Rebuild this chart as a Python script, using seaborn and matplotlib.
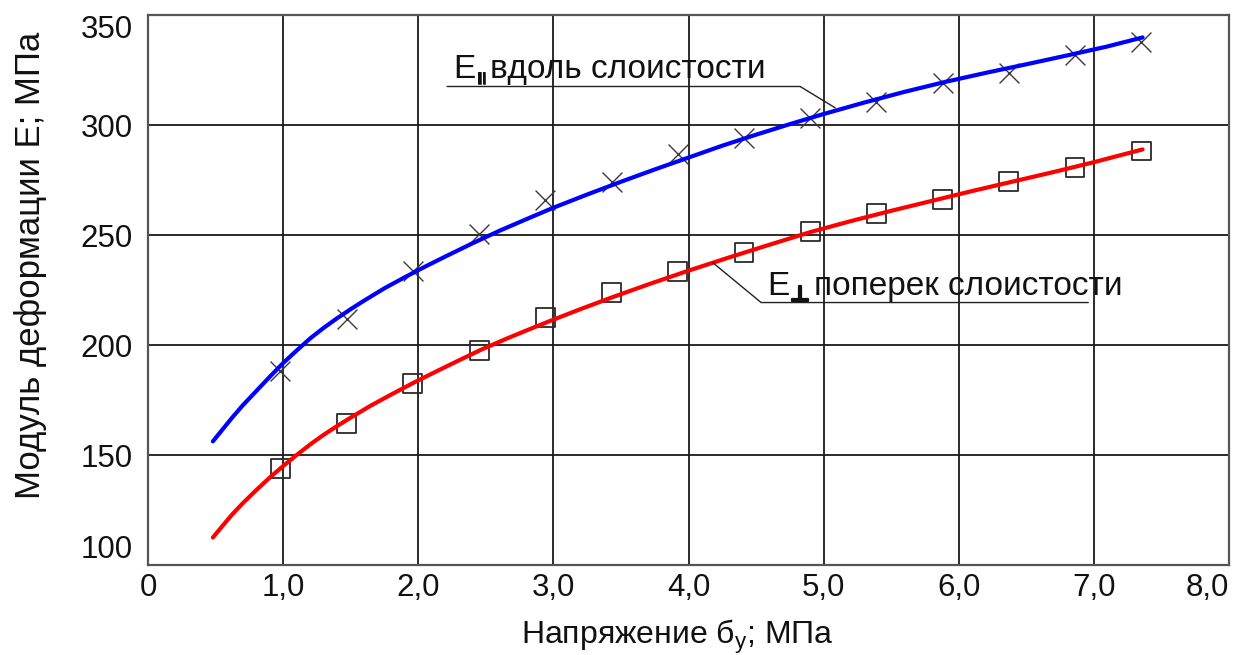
import numpy as np
import pandas as pd
import matplotlib
matplotlib.use("Agg")
import matplotlib.pyplot as plt
import matplotlib.patheffects as pe
import seaborn as sns

# Measured deformation modulus vs. stress
stress = [0.98, 1.47, 1.96, 2.45, 2.94, 3.43, 3.92, 4.41, 4.90, 5.39, 5.88, 6.37, 6.86, 7.35]
e_along = [188.3, 211.8, 233.6, 250.6, 266.1, 273.9, 286.6, 294.2, 303.3, 310.3, 319.0, 323.7, 331.8, 337.9]
e_across = [143.8, 164.4, 182.5, 197.6, 212.5, 223.7, 233.6, 242.1, 251.5, 259.8, 266.2, 274.5, 280.5, 288.2]

# Trend curves
fit_along_x = [0.48, 0.55, 0.62, 0.70, 0.80, 0.90, 1.00, 1.10, 1.20, 1.30, 1.40, 1.50, 1.60,
               1.75, 1.90, 2.05, 2.20, 2.40, 2.60, 2.80, 3.00, 3.25, 3.50, 3.75, 4.00, 4.25,
               4.50, 4.75, 5.00, 5.30, 5.60, 5.90, 6.20, 6.50, 6.80, 7.10, 7.36]
fit_along_y = [156.2, 161.5, 166.8, 172.5, 179.0, 185.5, 191.8, 197.5, 203.0, 207.8, 212.2,
               216.3, 220.2, 225.8, 230.8, 235.6, 240.2, 246.2, 251.9, 257.2, 262.4, 268.4,
               274.2, 279.8, 285.2, 290.6, 295.6, 300.4, 305.0, 310.2, 315.1, 319.6, 323.7,
               327.6, 331.6, 335.7, 339.8]
fit_across_x = [0.48, 0.55, 0.62, 0.70, 0.80, 0.90, 1.00, 1.10, 1.20, 1.30, 1.40, 1.50, 1.65,
                1.80, 1.97, 2.15, 2.30, 2.47, 2.65, 2.80, 2.97, 3.20, 3.44, 3.70, 4.00, 4.30,
                4.60, 4.90, 5.20, 5.50, 5.80, 6.10, 6.40, 6.70, 7.00, 7.36]
fit_across_y = [112.5, 117.7, 122.8, 128.0, 134.0, 139.7, 145.0, 150.0, 154.8, 159.2, 163.2,
                167.0, 172.5, 177.5, 183.0, 188.5, 193.0, 198.0, 202.8, 206.6, 210.8, 216.3,
                221.8, 227.5, 233.8, 239.8, 245.6, 251.3, 256.3, 261.0, 265.5, 270.0, 274.3,
                278.6, 283.1, 288.9]

x_ticks = [0, 1, 2, 3, 4, 5, 6, 7, 8]
x_tick_labels = ["0", "1,0", "2,0", "3,0", "4,0", "5,0", "6,0", "7,0", "8,0"]
y_ticks = [100, 150, 200, 250, 300, 350]

sns.set_theme(style="white")
plt.rcParams["font.family"] = ["Liberation Sans", "DejaVu Sans"]
plt.rcParams["mathtext.fontset"] = "custom"
plt.rcParams["mathtext.rm"] = "Liberation Sans"

fig = plt.figure(figsize=(12.44, 6.55), dpi=100)
ax = fig.add_axes([0.119, 0.1374, 0.869, 0.8397])

pts = pd.DataFrame({"stress": stress, "along": e_along, "across": e_across})
sns.scatterplot(data=pts, x="stress", y="along", marker="x", s=205, color="#3a3a3a",
                linewidth=1.0, ax=ax, zorder=3)
sns.scatterplot(data=pts, x="stress", y="across", marker="s", s=185, facecolor="none",
                edgecolor="#2a2a2a", linewidth=1.3, ax=ax, zorder=3)

sns.lineplot(x=fit_along_x, y=fit_along_y, color="#0000ff", linewidth=3.0, sort=False,
             estimator=None, ax=ax, zorder=4)
sns.lineplot(x=fit_across_x, y=fit_across_y, color="#ff0000", linewidth=3.0, sort=False,
             estimator=None, ax=ax, zorder=4)

ax.set_xlim(0, 8)
ax.set_ylim(100, 350)
ax.set_xticks(x_ticks)
ax.set_xticklabels(x_tick_labels)
ax.set_yticks(y_ticks)
ax.tick_params(axis="both", length=0, labelsize=22.5, colors="#111111")
ax.tick_params(axis="x", pad=6)
ax.tick_params(axis="y", pad=11)
for lab in ax.get_yticklabels():
    if lab.get_text() == "350":
        lab.set_verticalalignment("top")
    elif lab.get_text() == "100":
        lab.set_verticalalignment("bottom")
xl = ax.get_xticklabels()
xl[-1].set_horizontalalignment("right")

ax.grid(True, color="#1a1a1a", linewidth=1.3)
ax.set_axisbelow(True)
for sp in ax.spines.values():
    sp.set_color("#555555")
    sp.set_linewidth(1.6)

ax.set_xlabel("Напряжение б$_{\\mathregular{y}}$; МПа", fontsize=23, color="#111111")
ax.xaxis.set_label_coords(0.49, -0.131)
ax.xaxis.label.set_verticalalignment("center")
ax.set_ylabel("Модуль деформации Е; МПа", fontsize=25, color="#111111")
ax.yaxis.set_label_coords(-0.109, 0.545)
ax.yaxis.label.set_verticalalignment("center")


def series_label(x, y, sub, rest, line_x, line_y, sub_font, sub_size, sub_dy, stroke):
    t_e = ax.text(x, y, "E", fontsize=24, color="#111111", va="baseline", ha="left", zorder=5)
    t_sub = ax.annotate(sub, xy=(1, 0), xycoords=t_e, xytext=(1.0, sub_dy),
                        textcoords="offset points", fontsize=sub_size, fontweight="bold",
                        family=sub_font, color="#111111", va="bottom", ha="left", zorder=5,
                        path_effects=[pe.withStroke(linewidth=stroke, foreground="#111111")])
    ax.annotate(rest, xy=(1, 0), xycoords=(t_sub, t_e), xytext=(3, 0),
                textcoords="offset points", fontsize=24, color="#111111",
                va="bottom", ha="left", zorder=5)
    ax.plot(line_x, line_y, color="#222222", linewidth=1.0, zorder=5)


# Leader lines: underline under the caption, then a slanted segment to the curve
series_label(2.26, 321.5, "ll", "вдоль слоистости",
             [2.213, 4.826, 5.085], [317.5, 317.5, 307.8], ["Liberation Sans"], 12, -2, 0.4)
series_label(4.58, 222.7, "⊥", "поперек слоистости",
             [6.958, 4.537, 4.18], [219.3, 219.3, 237.4], ["DejaVu Sans"], 15, -2, 1.6)

fig.savefig("out.png", dpi=100)
